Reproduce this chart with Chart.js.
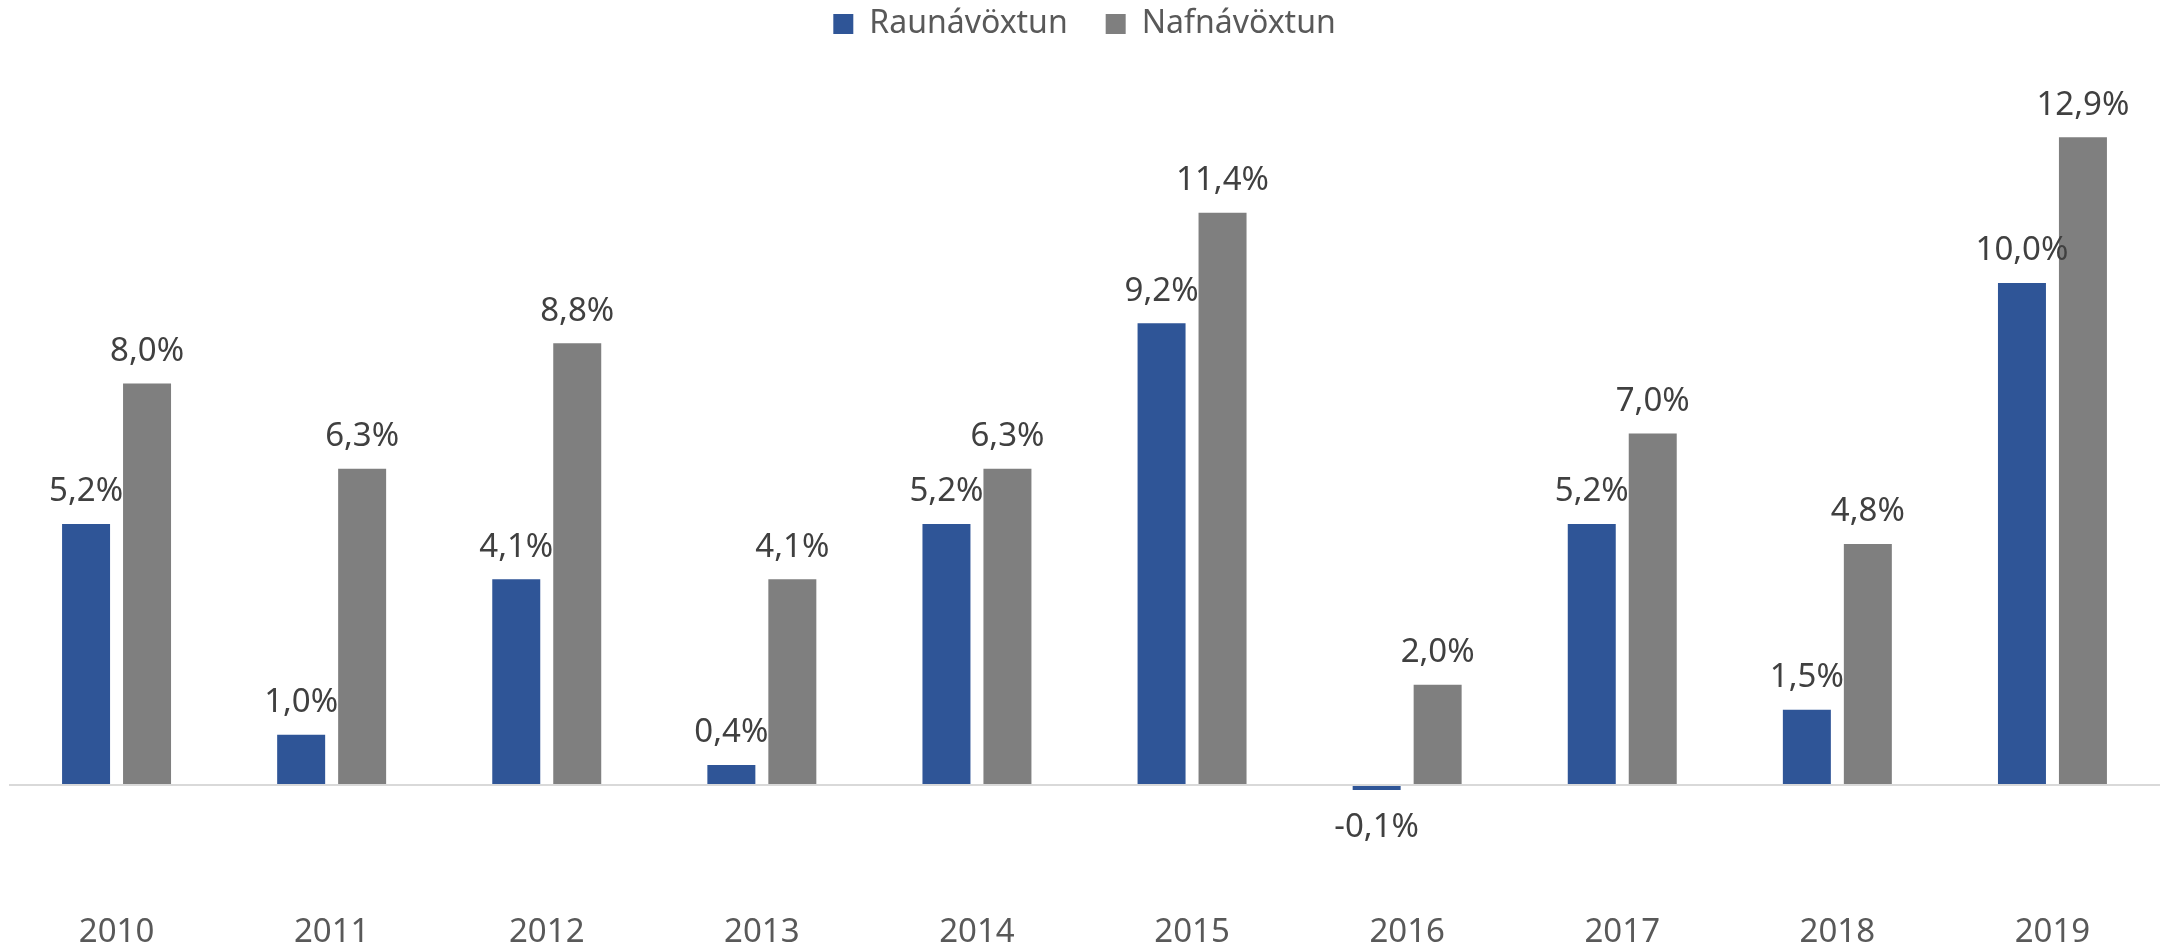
<!DOCTYPE html>
<html lang="is">
<head>
    <meta charset="UTF-8">
    <title>Raunávöxtun og nafnávöxtun</title>
    <script src="https://cdn.jsdelivr.net/npm/chart.js"></script>
    <style>
        body {
            margin: 0;
            background: #FFFFFF;
        }
        #wrap {
            width: 2160px;
            height: 952px;
            position: relative;
        }
    </style>
</head>
<body>
<div id="wrap">
    <canvas id="chart"></canvas>
</div>
<script>
    // Gögn
    const years = ['2010', '2011', '2012', '2013', '2014', '2015', '2016', '2017', '2018', '2019'];
    const raunavoxtun = [5.2, 1.0, 4.1, 0.4, 5.2, 9.2, -0.1, 5.2, 1.5, 10.0];
    const nafnavoxtun = [8.0, 6.3, 8.8, 4.1, 6.3, 11.4, 2.0, 7.0, 4.8, 12.9];

    const FONT = "'Noto Sans', sans-serif";

    // Föst hæð á skýringunni svo teiknisvæðið byrji á réttum stað
    const legendHeight = {
        id: 'legendHeight',
        beforeInit(chart) {
            const lg = chart.legend;
            if (!lg) return;
            const fit = lg.fit;
            lg.fit = function () {
                fit.call(this);
                this.height = 79;
            };
        }
    };

    // Merki yfir súlunum (engin datalabels viðbót í boði)
    const valueLabels = {
        id: 'valueLabels',
        afterDatasetsDraw(chart) {
            const ctx = chart.ctx;
            ctx.save();
            ctx.font = '33px ' + FONT;
            ctx.fillStyle = '#404040';
            ctx.textAlign = 'center';
            ctx.textBaseline = 'middle';
            chart.data.datasets.forEach((ds, i) => {
                const meta = chart.getDatasetMeta(i);
                meta.data.forEach((bar, j) => {
                    const v = ds.data[j];
                    const txt = v.toFixed(1).replace('.', ',') + '%';
                    const y = v >= 0 ? bar.y - 32 : bar.y + 37;
                    ctx.fillText(txt, bar.x, y);
                });
            });
            ctx.restore();
        }
    };

    new Chart(document.getElementById('chart'), {
        type: 'bar',
        data: {
            labels: years,
            datasets: [{
                label: 'Raunávöxtun',
                data: raunavoxtun,
                backgroundColor: '#2F5597',
                barPercentage: 0.787,
                categoryPercentage: 0.567
            }, {
                label: 'Nafnávöxtun',
                data: nafnavoxtun,
                backgroundColor: '#7F7F7F',
                barPercentage: 0.787,
                categoryPercentage: 0.567
            }]
        },
        options: {
            responsive: true,
            maintainAspectRatio: false,
            animation: false,
            layout: { padding: { left: 9, right: 0, top: -30, bottom: 0 } },
            plugins: {
                legend: {
                    position: 'top',
                    labels: {
                        boxWidth: 20,
                        boxHeight: 20,
                        color: '#595959',
                        font: { family: FONT, size: 32 },
                        padding: 38
                    }
                },
                tooltip: { enabled: false }
            },
            scales: {
                x: {
                    grid: { display: false, drawTicks: false },
                    border: { display: false },
                    ticks: {
                        color: '#595959',
                        font: { family: FONT, size: 33 },
                        padding: 29
                    },
                    afterFit(scale) {
                        scale.height = 68;
                    }
                },
                y: {
                    min: -1.97,
                    max: 14.66,
                    ticks: { display: false, stepSize: 1 },
                    border: { display: false },
                    grid: {
                        drawTicks: false,
                        lineWidth: 2,
                        color: c => c.tick && c.tick.value === 0 ? '#D9D9D9' : 'transparent'
                    }
                }
            }
        },
        plugins: [legendHeight, valueLabels]
    });
</script>
</body>
</html>
